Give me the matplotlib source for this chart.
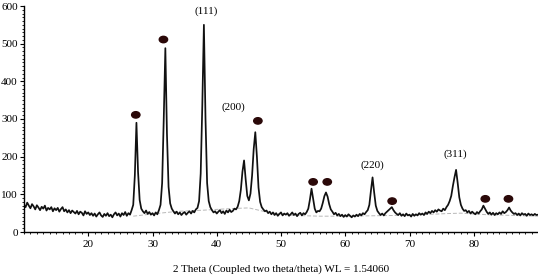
import numpy as np
import matplotlib
matplotlib.use("Agg")
import matplotlib.pyplot as plt
from matplotlib.patches import Ellipse
from matplotlib.ticker import MultipleLocator, FixedLocator

# measured pattern, 2theta from 10 to 90 in 0.25 deg steps
two_theta = np.arange(10, 90.001, 0.25)
intensity = [
    72, 66, 78, 70,   63, 74, 68, 60,   71, 65, 58, 67,   62, 70, 57, 64,
    60, 66, 55, 63,   58, 64, 54, 61,   66, 55, 60, 52,   58, 50, 57, 53,
    49, 56, 47, 54,   51, 44, 55, 48,   52, 45, 50, 43,   49, 41, 47, 52,
    44, 40, 48, 43,   50, 42, 46, 39,   47, 52, 44, 49,   41, 50, 45, 53,
    43, 50, 46, 58,   72, 150, 290, 160, 85, 62, 55, 50,  57, 48, 53, 46,
    50, 44, 52, 47,   58, 72, 130, 300, 488, 260, 120, 76, 62, 55, 49, 54,
    47, 52, 45, 50,   53, 46, 51, 55,   49, 56, 52, 60,   64, 82, 155, 335,
    550, 300, 130, 82, 66, 58, 52, 55,  49, 54, 58, 50,   55, 48, 57, 52,
    59, 53, 56, 62,   60, 67, 82, 112,  160, 190, 140, 96, 84, 102, 150, 220,
    265, 200, 118, 80, 66, 60, 55, 57,  50, 54, 47, 52,   45, 50, 43, 48,
    52, 44, 49, 46,   50, 43, 47, 52,   45, 49, 42, 48,   51, 44, 50, 47,
    53, 62, 86, 115,  88, 62, 52, 56,   55, 62, 77, 95,   105, 94, 74, 60,
    54, 47, 51, 44,   48, 42, 46, 40,   45, 41, 47, 43,   39, 44, 41, 46,
    42, 48, 44, 50,   47, 53, 58, 72,   110, 145, 105, 70, 56, 50, 45, 49,
    44, 50, 54, 58,   62, 66, 58, 52,   48, 45, 50, 43,   47, 42, 49, 44,
    46, 41, 48, 43,   47, 44, 50, 46,   49, 45, 52, 48,   54, 50, 56, 52,
    58, 54, 60, 57,   55, 62, 58, 66,   72, 82, 96, 122,  145, 165, 130, 92,
    72, 62, 56, 58,   52, 56, 49, 54,   50, 47, 53, 49,   55, 60, 70, 62,
    54, 48, 52, 46,   51, 45, 50, 47,   52, 48, 55, 50,   53, 58, 65, 57,
    52, 48, 50, 45,   49, 44, 50, 46,   48, 43, 49, 45,   47, 44, 48, 45,
    46,
]

# amorphous background (grey dashed)
bg_theta = [27, 30, 34, 38, 42, 45, 48, 52, 56, 60, 64, 68, 72, 76, 78, 82, 86, 90]
bg_int = [42, 48, 55, 58, 62, 64, 52, 44, 42, 42, 43, 44, 46, 49, 50, 46, 44, 42]

# dot markers (second phase)
dot_theta = [27.4, 31.7, 46.4, 55.0, 57.2, 67.3, 81.8, 85.4]
dot_int = [311, 511, 295, 133, 133, 82, 88, 88]

# miller index labels
hkl_labels = ["(111)", "(200)", "(220)", "(311)"]
hkl_theta = [38.4, 42.6, 64.2, 77.1]
hkl_int = [585, 332, 178, 207]

plt.rcParams['font.family'] = ['Liberation Serif', 'DejaVu Serif']

fig = plt.figure(figsize=(5.38, 2.76), dpi=100)
ax = fig.add_axes([24 / 538, 44 / 276, 514 / 538, 226 / 276])

ax.plot(bg_theta, bg_int, color='#b8b8b8', lw=0.7, ls=(0, (4, 2)), zorder=1)
ax.plot(two_theta, intensity, color='#111111', lw=1.25, zorder=2)

for x, y in zip(dot_theta, dot_int):
    ax.add_patch(Ellipse((x, y), 1.3, 17, color='#2a0808', zorder=3))

for lab, x, y in zip(hkl_labels, hkl_theta, hkl_int):
    ax.text(x, y, lab, ha='center', va='center', fontsize=8)

ax.set_xlim(10, 90)
ax.set_ylim(0, 600)
ax.xaxis.set_major_locator(FixedLocator([20, 30, 40, 50, 60, 70, 80]))
ax.xaxis.set_minor_locator(MultipleLocator(1))
ax.yaxis.set_major_locator(MultipleLocator(100))
ax.yaxis.set_minor_locator(MultipleLocator(10))
ax.tick_params(which='major', direction='out', length=3, width=0.8, labelsize=8, pad=1.5)
ax.tick_params(which='minor', direction='out', length=1.5, width=0.6)
ax.tick_params(axis='x', which='major', pad=3)

for s in ['top', 'right']:
    ax.spines[s].set_visible(False)
for s in ['left', 'bottom']:
    ax.spines[s].set_linewidth(1.0)

ax.set_xlabel('2 Theta (Coupled two theta/theta) WL = 1.54060', fontsize=8, labelpad=11)

fig.savefig('out.png', dpi=100)
